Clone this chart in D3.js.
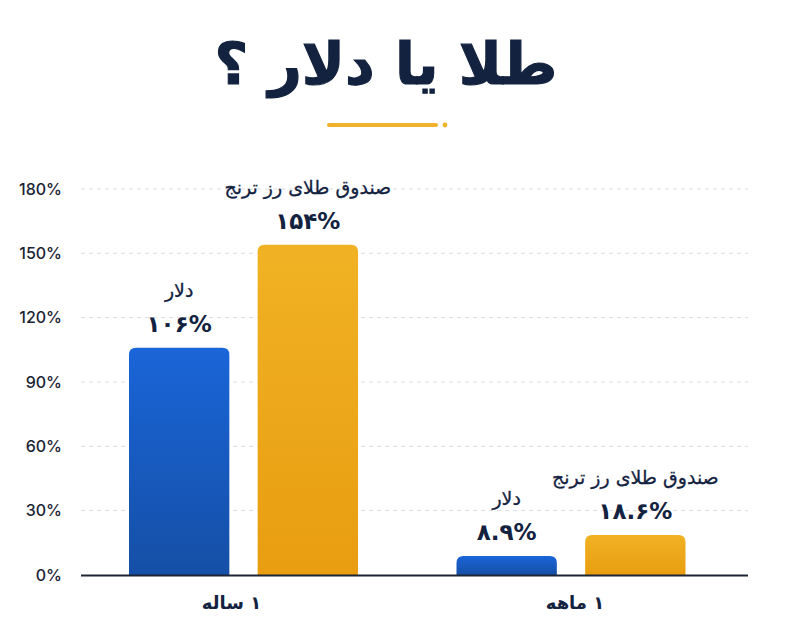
<!DOCTYPE html>
<html><head><meta charset="utf-8">
<script src="https://cdn.jsdelivr.net/npm/d3@7/dist/d3.min.js"></script>
<style>
html,body{margin:0;padding:0;background:#fff;}
svg{display:block;}
</style></head>
<body>
<svg id="chart" width="800" height="628"></svg>
<script>
const title = "طلا یا دلار ؟";
const categories = ["۱ ساله", "۱ ماهه"];
const seriesNames = ["دلار", "صندوق طلای رز ترنج"];
const dollarValues = [106, 8.9];
const goldValues = [154, 18.6];
const dollarLabels = ["۱۰۶%", "۸.۹%"];
const goldLabels = ["۱۵۴%", "۱۸.۶%"];
const yTicks = [0, 30, 60, 90, 120, 150, 180];

const svg = d3.select("#chart");
const navy = "#13223f";
const persianFont = "'DejaVu Sans', sans-serif";

const y = d3.scaleLinear().domain([0, 180]).range([575, 189]);
const x0 = d3.scaleBand().domain(categories).range([81, 748]).padding(0);
const x1 = d3.scaleBand().domain(seriesNames).range([48, 277]).paddingInner(0.22).paddingOuter(0);

const defs = svg.append("defs");
const gradBlue = defs.append("linearGradient").attr("id", "gBlue").attr("x1", 0).attr("y1", 0).attr("x2", 0).attr("y2", 1);
gradBlue.append("stop").attr("offset", "0%").attr("stop-color", "#1a65d8");
gradBlue.append("stop").attr("offset", "100%").attr("stop-color", "#154fa6");
const gradGold = defs.append("linearGradient").attr("id", "gGold").attr("x1", 0).attr("y1", 0).attr("x2", 0).attr("y2", 1);
gradGold.append("stop").attr("offset", "0%").attr("stop-color", "#f0b224");
gradGold.append("stop").attr("offset", "100%").attr("stop-color", "#e99d10");

// Title
svg.append("text").attr("x", 386).attr("y", 84).attr("text-anchor", "middle")
  .attr("direction", "rtl")
  .style("font-family", persianFont).style("font-weight", "bold").style("font-size", "58px")
  .attr("fill", navy).attr("stroke", navy).attr("stroke-width", 1.2).text(title);
svg.append("line").attr("x1", 329).attr("x2", 436).attr("y1", 125).attr("y2", 125)
  .attr("stroke", "#efb22a").attr("stroke-width", 4).attr("stroke-linecap", "round");
svg.append("circle").attr("cx", 445).attr("cy", 125).attr("r", 2.4).attr("fill", "#efb22a");

// Grid
const yAxis = d3.axisLeft(y).tickValues(yTicks).tickFormat(d => d + "%").tickSize(0).tickPadding(19);
const gy = svg.append("g").attr("transform", "translate(81,0)").call(yAxis);
gy.select(".domain").remove();
gy.selectAll("text").style("font-family", "Inter, 'Open Sans', sans-serif").style("font-size", "16px")
  .style("font-weight", "500").attr("fill", "#1b2333");
svg.append("g").selectAll("line").data(yTicks.filter(d => d > 0)).join("line")
  .attr("x1", 81).attr("x2", 748).attr("y1", d => y(d)).attr("y2", d => y(d))
  .attr("stroke", "#d9dce2").attr("stroke-width", 1).attr("stroke-dasharray", "4,4");

// Bars
const data = categories.map((c, i) => ({
  cat: c,
  items: [
    {name: seriesNames[0], value: dollarValues[i], label: dollarLabels[i], fill: "url(#gBlue)"},
    {name: seriesNames[1], value: goldValues[i], label: goldLabels[i], fill: "url(#gGold)"}
  ]
}));

function topRounded(x, yTop, w, h, r) {
  r = Math.min(r, h, w / 2);
  return `M${x},${yTop + h}V${yTop + r}Q${x},${yTop} ${x + r},${yTop}H${x + w - r}Q${x + w},${yTop} ${x + w},${yTop + r}V${yTop + h}Z`;
}

const groups = svg.append("g").selectAll("g").data(data).join("g")
  .attr("transform", (d, i) => `translate(${x0(d.cat) - i * 6},0)`);
const items = groups.selectAll("g").data(d => d.items).join("g");
items.append("path")
  .attr("d", d => topRounded(x1(d.name), y(d.value), x1.bandwidth(), y(0) - y(d.value), 7))
  .attr("fill", d => d.fill);
items.append("text")
  .attr("x", d => x1(d.name) + x1.bandwidth() / 2)
  .attr("y", d => y(d.value) - 16)
  .attr("text-anchor", "middle").attr("direction", "rtl")
  .style("font-family", persianFont).style("font-weight", "bold").style("font-size", "23px")
  .attr("fill", navy).text(d => d.label);
items.append("text")
  .attr("x", d => x1(d.name) + x1.bandwidth() / 2)
  .attr("y", d => y(d.value) - 51)
  .attr("text-anchor", "middle").attr("direction", "rtl")
  .style("font-family", persianFont).style("font-size", "19px")
  .attr("fill", navy).attr("stroke", navy).attr("stroke-width", 0.3).text(d => d.name);

// X axis
svg.append("line").attr("x1", 81).attr("x2", 748).attr("y1", y(0) + 0.5).attr("y2", y(0) + 0.5)
  .attr("stroke", "#1b2536").attr("stroke-width", 2);
const xAxis = d3.axisBottom(x0).tickSize(0).tickPadding(21);
const gx = svg.append("g").attr("transform", `translate(0,${y(0)})`).call(xAxis);
gx.select(".domain").remove();
gx.selectAll(".tick").attr("transform", (d, i) => `translate(${x0(d) + (x1.range()[0] + x1.range()[1]) / 2 - (i === 0 ? 12 : 2)},0)`);
gx.selectAll("text").attr("direction", "rtl")
  .style("font-family", persianFont).style("font-weight", "bold").style("font-size", "18px")
  .attr("fill", navy);
</script>
</body></html>
